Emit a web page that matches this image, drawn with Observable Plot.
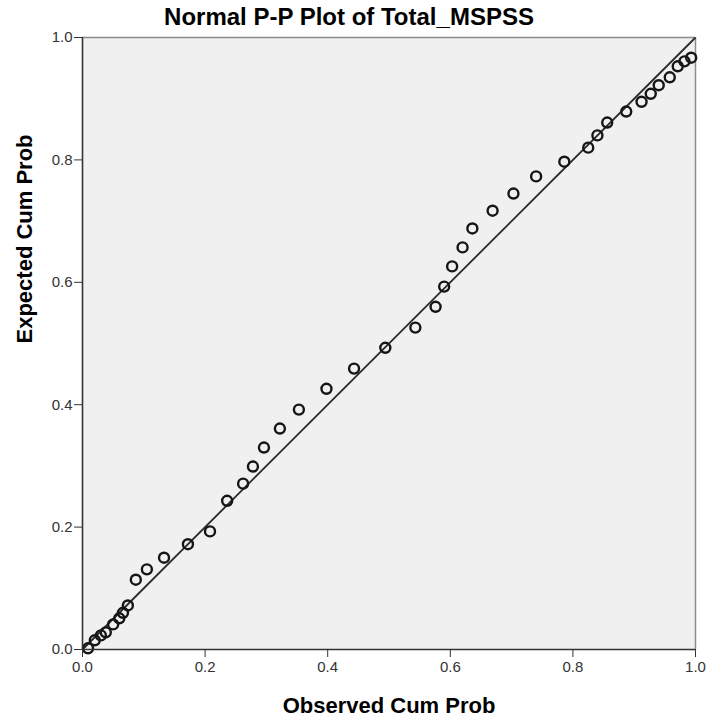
<!DOCTYPE html>
<html>
<head>
<meta charset="utf-8">
<script src="https://cdn.jsdelivr.net/npm/d3@7"></script>
<script src="https://cdn.jsdelivr.net/npm/@observablehq/plot@0.6"></script>
<style>
  html, body { margin: 0; padding: 0; background: #ffffff; }
  #chart svg { display: block; }
</style>
</head>
<body>
<div id="chart"></div>
<script>
// Observed vs expected cumulative probabilities for Total_MSPSS
const observedCumProb = [
  0.009, 0.020, 0.030, 0.038, 0.050, 0.060, 0.066, 0.074, 0.087, 0.105,
  0.133, 0.172, 0.208, 0.236, 0.262, 0.278, 0.296, 0.322, 0.353, 0.398,
  0.443, 0.494, 0.543, 0.576, 0.590, 0.603, 0.620, 0.636, 0.669, 0.703,
  0.740, 0.786, 0.825, 0.840, 0.856, 0.887, 0.912, 0.927, 0.940, 0.958,
  0.971, 0.982, 0.993
];
const expectedCumProb = [
  0.002, 0.015, 0.023, 0.028, 0.041, 0.051, 0.060, 0.072, 0.114, 0.131,
  0.150, 0.172, 0.193, 0.243, 0.271, 0.299, 0.330, 0.361, 0.392, 0.426,
  0.459, 0.493, 0.526, 0.560, 0.593, 0.626, 0.657, 0.688, 0.717, 0.745,
  0.773, 0.797, 0.820, 0.840, 0.861, 0.879, 0.895, 0.908, 0.922, 0.935,
  0.953, 0.961, 0.967
];
const tickValues = [0, 0.2, 0.4, 0.6, 0.8, 1.0];
const titleText = "Normal P-P Plot of Total_MSPSS";
const xLabel = "Observed Cum Prob";
const yLabel = "Expected Cum Prob";

const points = observedCumProb.map((o, i) => ({observed: o, expected: expectedCumProb[i]}));
const diagonal = [{x1: 0, y1: 0, x2: 1, y2: 1}];

const fontFamily = "'Liberation Sans', Arial, sans-serif";
const fmt = d3.format(".1f");

const chart = Plot.plot({
  width: 711,
  height: 722,
  marginLeft: 82,
  marginRight: 16,
  marginTop: 37,
  marginBottom: 73,
  style: {fontFamily, background: "#ffffff", overflow: "visible"},
  x: {domain: [0, 1], label: null},
  y: {domain: [0, 1], label: null},
  marks: [
    Plot.frame({fill: "#f0f0f0", stroke: null}),
    // top and right edges of the plot area
    Plot.ruleY([1], {stroke: "#8c8c8c", strokeWidth: 1.5}),
    Plot.ruleX([1], {stroke: "#8c8c8c", strokeWidth: 1.5}),
    // reference line y = x
    Plot.link(diagonal, {x1: "x1", y1: "y1", x2: "x2", y2: "y2", stroke: "#2a2a2a", strokeWidth: 1.8}),
    Plot.dot(points, {x: "observed", y: "expected", r: 5, stroke: "#151515", strokeWidth: 2.4, fill: "none"}),
    // axis lines
    Plot.ruleX([0], {stroke: "#333333", strokeWidth: 1.6}),
    Plot.ruleY([0], {stroke: "#333333", strokeWidth: 1.6}),
    Plot.axisX({ticks: tickValues, tickFormat: fmt, tickSize: 8, tickPadding: 4, fontSize: 15, color: "#333333", label: null}),
    Plot.axisY({ticks: tickValues, tickFormat: fmt, tickSize: 8, tickPadding: 2, fontSize: 15, color: "#333333", label: null}),
    // title and axis titles
    Plot.text([titleText], {frameAnchor: "top", dx: -40, dy: -30, fontSize: 24, fontWeight: "bold", fill: "#000000"}),
    Plot.text([xLabel], {frameAnchor: "bottom", dy: 63, fontSize: 22, fontWeight: "bold", fill: "#000000"}),
    Plot.text([yLabel], {frameAnchor: "left", dx: -58, rotate: -90, fontSize: 22, fontWeight: "bold", fill: "#000000"})
  ]
});

document.getElementById("chart").append(chart);
</script>
</body>
</html>
